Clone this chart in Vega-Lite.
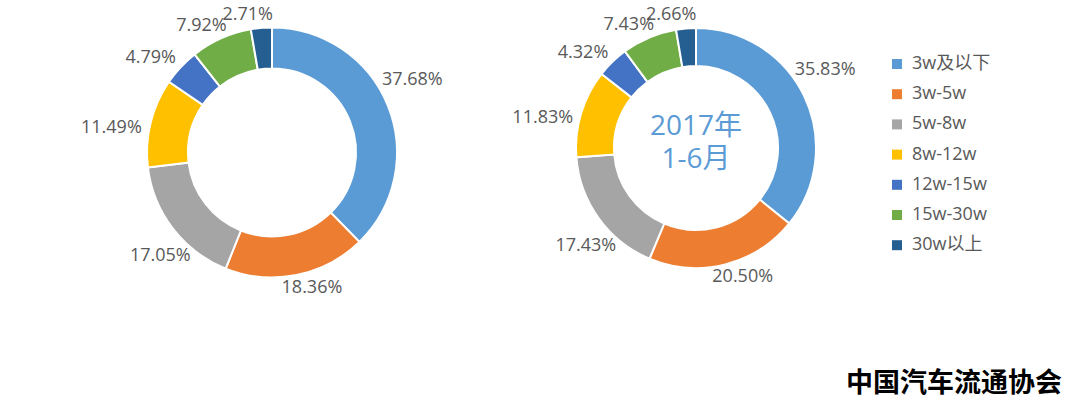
{
  "$schema": "https://vega.github.io/schema/vega-lite/v6.json",
  "padding": 0,
  "background": "white",
  "bounds": "flush",
  "config": {
    "view": {"stroke": null},
    "font": "Open Sans, Noto Sans CJK SC",
    "concat": {"spacing": 22}
  },
  "title": {
    "text": "中国汽车流通协会",
    "orient": "bottom",
    "anchor": "end",
    "baseline": "top",
    "fontSize": 27,
    "fontWeight": "bold",
    "color": "#000000",
    "font": "Noto Sans CJK SC",
    "offset": 66,
    "dx": 71
  },
  "datasets": {
    "left": [
      {"idx": 1, "cat": "3w及以下", "value": 37.68, "label": "37.68%"},
      {"idx": 2, "cat": "3w-5w", "value": 18.36, "label": "18.36%"},
      {"idx": 3, "cat": "5w-8w", "value": 17.05, "label": "17.05%"},
      {"idx": 4, "cat": "8w-12w", "value": 11.49, "label": "11.49%"},
      {"idx": 5, "cat": "12w-15w", "value": 4.79, "label": "4.79%"},
      {"idx": 6, "cat": "15w-30w", "value": 7.92, "label": "7.92%"},
      {"idx": 7, "cat": "30w以上", "value": 2.71, "label": "2.71%"}
    ],
    "right": [
      {"idx": 1, "cat": "3w及以下", "value": 35.83, "label": "35.83%"},
      {"idx": 2, "cat": "3w-5w", "value": 20.50, "label": "20.50%"},
      {"idx": 3, "cat": "5w-8w", "value": 17.43, "label": "17.43%"},
      {"idx": 4, "cat": "8w-12w", "value": 11.83, "label": "11.83%"},
      {"idx": 5, "cat": "12w-15w", "value": 4.32, "label": "4.32%"},
      {"idx": 6, "cat": "15w-30w", "value": 7.43, "label": "7.43%"},
      {"idx": 7, "cat": "30w以上", "value": 2.66, "label": "2.66%"}
    ],
    "center": [{"t": "2017年\n1-6月"}]
  },
  "hconcat": [
    {
      "width": 544,
      "height": 305,
      "data": {"name": "left"},
      "transform": [
        {"stack": "value", "groupby": [], "sort": [{"field": "idx", "order": "ascending"}], "as": ["v0", "v1"]}
      ],
      "layer": [
        {
          "mark": {"type": "arc", "outerRadius": 125, "innerRadius": 84, "stroke": "white", "strokeWidth": 2},
          "encoding": {
            "theta": {"field": "v0", "type": "quantitative", "scale": {"domain": [0, 100]}},
            "theta2": {"field": "v1"},
            "color": {
              "field": "cat",
              "type": "nominal",
              "scale": {
                "domain": ["3w及以下", "3w-5w", "5w-8w", "8w-12w", "12w-15w", "15w-30w", "30w以上"],
                "range": ["#5B9BD5", "#ED7D31", "#A5A5A5", "#FFC000", "#4472C4", "#70AD47", "#255E91"]
              },
              "legend": null
            }
          }
        },
        {
          "mark": {
            "type": "text",
            "theta": {"expr": "PI*(datum.v0 + datum.v1)/100 - 0.09"},
            "radius": {"expr": "139 + 24*pow(sin(PI*(datum.v0 + datum.v1)/100 - 0.09), 2)"},
            "fontSize": 18,
            "baseline": "middle",
            "align": "center",
            "color": "#595959"
          },
          "encoding": {"text": {"field": "label"}}
        }
      ]
    },
    {
      "width": 260,
      "height": 296,
      "layer": [
        {
          "data": {"name": "right"},
          "transform": [
            {"stack": "value", "groupby": [], "sort": [{"field": "idx", "order": "ascending"}], "as": ["v0", "v1"]}
          ],
          "layer": [
            {
              "mark": {"type": "arc", "outerRadius": 120, "innerRadius": 82, "stroke": "white", "strokeWidth": 2},
              "encoding": {
                "theta": {"field": "v0", "type": "quantitative", "scale": {"domain": [0, 100]}},
                "theta2": {"field": "v1"},
                "color": {
                  "field": "cat",
                  "type": "nominal",
                  "scale": {
                    "domain": ["3w及以下", "3w-5w", "5w-8w", "8w-12w", "12w-15w", "15w-30w", "30w以上"],
                    "range": ["#5B9BD5", "#ED7D31", "#A5A5A5", "#FFC000", "#4472C4", "#70AD47", "#255E91"]
                  },
                  "legend": {
                    "orient": "none",
                    "legendX": 322,
                    "legendY": 55,
                    "title": null,
                    "symbolType": "square",
                    "symbolSize": 100,
                    "symbolStrokeWidth": 0,
                    "labelFontSize": 18,
                    "labelColor": "#595959",
                    "rowPadding": 12.2,
                    "labelOffset": 6,
                    "padding": 0
                  }
                }
              }
            },
            {
              "mark": {
                "type": "text",
                "theta": {"expr": "PI*(datum.v0 + datum.v1)/100 - 0.1"},
                "radius": {"expr": "135 + 22*pow(sin(PI*(datum.v0 + datum.v1)/100 - 0.1), 2)"},
                "fontSize": 18,
                "baseline": "middle",
                "align": "center",
                "color": "#595959"
              },
              "encoding": {"text": {"field": "label"}}
            }
          ]
        },
        {
          "data": {"name": "center"},
          "mark": {"type": "text", "fontSize": 28, "lineBreak": "\n", "lineHeight": 33, "align": "center", "baseline": "middle", "dy": -21, "color": "#5B9BD5"},
          "encoding": {"text": {"field": "t"}}
        }
      ]
    }
  ],
  "resolve": {"scale": {"color": "independent", "theta": "independent"}}
}
